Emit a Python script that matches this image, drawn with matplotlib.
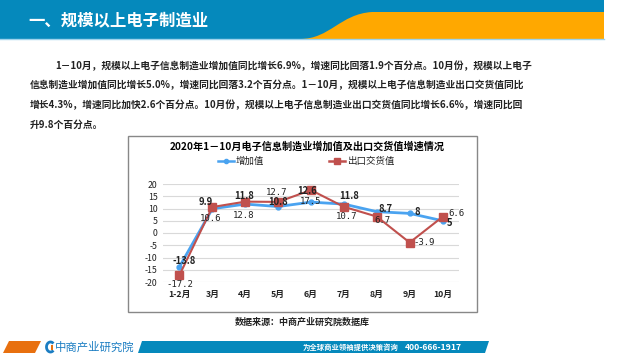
import matplotlib
matplotlib.use("Agg")
import matplotlib.pyplot as plt
from matplotlib.patches import Rectangle, Polygon, PathPatch, Arc
from matplotlib.path import Path

plt.rcParams['font.family'] = ['Noto Sans CJK SC', 'DejaVu Sans']

categories = ["1-2月", "3月", "4月", "5月", "6月", "7月", "8月", "9月", "10月"]
value_added = [-13.8, 9.9, 11.8, 10.8, 12.6, 11.8, 8.7, 8.0, 5.0]
export_value = [-17.2, 10.6, 12.8, 12.7, 17.5, 10.7, 6.7, -3.9, 6.6]
value_labels = ["-13.8", "9.9", "11.8", "10.8", "12.6", "11.8", "8.7", "8", "5"]
export_labels = ["-17.2", "10.6", "12.8", "12.7", "17.5", "10.7", "6.7", "-3.9", "6.6"]
yticks = [20, 15, 10, 5, 0, -5, -10, -15, -20]

W, H = 640, 360
fig = plt.figure(figsize=(6.4, 3.6), dpi=100)
fig.patch.set_facecolor("white")

# background / slide axes in pixel coordinates
bg = fig.add_axes([0, 0, 1, 1], zorder=0)
bg.set_xlim(0, W)
bg.set_ylim(H, 0)
bg.axis("off")

BLUE = "#0589BC"
ORANGE = "#FFA800"
# header
bg.add_patch(Rectangle((0, 0), 604, 39, facecolor=BLUE, edgecolor="none"))
verts = [(300, 39), (330, 39), (340, 14), (372, 12), (604, 12), (604, 39), (300, 39)]
codes = [Path.MOVETO, Path.CURVE4, Path.CURVE4, Path.CURVE4, Path.LINETO, Path.LINETO, Path.CLOSEPOLY]
bg.add_patch(PathPatch(Path(verts, codes), facecolor=ORANGE, edgecolor="none"))
bg.plot([0, 604], [38.5, 38.5], color="#9FD3EC", lw=1)
bg.text(28, 20, "一、规模以上电子制造业", color="white", fontsize=11.8, fontweight="bold",
        va="center", ha="left")

# paragraph
lines = [
    "1－10月，规模以上电子信息制造业增加值同比增长6.9%，增速同比回落1.9个百分点。10月份，规模以上电子",
    "信息制造业增加值同比增长5.0%，增速同比回落3.2个百分点。1－10月，规模以上电子信息制造业出口交货值同比",
    "增长4.3%，增速同比加快2.6个百分点。10月份，规模以上电子信息制造业出口交货值同比增长6.6%，增速同比回",
    "升9.8个百分点。",
]
ys = [66, 85.5, 105, 124.5]
xs = [55, 30, 30, 30]
for t, x, y in zip(lines, xs, ys):
    bg.text(x, y, t, fontsize=7.0, fontweight="bold", color="#222222", va="center", ha="left")

# chart frame
bg.add_patch(Rectangle((128, 136), 349, 176, facecolor="white", edgecolor="#888888", lw=1))
bg.text(307, 147, "2020年1－10月电子信息制造业增加值及出口交货值增速情况", fontsize=7.3,
        fontweight="bold", color="black", ha="center", va="center")
# legend
LBLUE = "#4AA3F0"
RED = "#C0504D"
bg.plot([218, 234], [161, 161], color=LBLUE, lw=1.8)
bg.plot([226], [161], marker="o", ms=3, color=LBLUE)
bg.text(236, 161, "增加值", fontsize=6.8, ha="left", va="center", color="#222222")
bg.plot([329, 345], [161, 161], color=RED, lw=1.8)
bg.plot([337], [161], marker="s", ms=4.5, color=RED)
bg.text(347, 161, "出口交货值", fontsize=6.8, ha="left", va="center", color="#222222")

# source
bg.text(302, 322, "数据来源：中商产业研究院数据库", fontsize=6.5, fontweight="bold",
        ha="center", va="center", color="#222222")

# footer
bg.add_patch(Polygon([(3, 353), (9, 341), (41, 341), (35, 353)], facecolor="#E8700F", edgecolor="none"))
bg.add_patch(Polygon([(138, 353), (142, 341), (489, 341), (485, 353)], facecolor=BLUE, edgecolor="none"))
bg.add_patch(Arc((50.5, 347), 8, 10, theta1=50, theta2=310, color="#1B7DC2", lw=2))
bg.add_patch(Rectangle((50.5, 344.5), 2.5, 5, facecolor="#E8700F", edgecolor="none"))
bg.text(55, 347.5, "中商产业研究院", fontsize=8.2, color="#1B7DC2", ha="left", va="center")
bg.text(303, 347.5, "为全球商业领袖提供决策咨询", fontsize=5.3, fontweight="bold",
        color="white", ha="left", va="center")
bg.text(405, 347.5, "400-666-1917", fontsize=6.2, fontweight="bold",
        color="white", ha="left", va="center")

# chart axes
left, right, top, bottom = 163, 459, 184, 282
ax = fig.add_axes([left / W, (H - bottom) / H, (right - left) / W, (bottom - top) / H], zorder=2)
ax.patch.set_alpha(0)
x = list(range(len(categories)))
ax.set_xlim(-0.5, len(categories) - 0.5)
ax.set_ylim(-20, 20)
ax.set_yticks(yticks)
ax.set_yticklabels([str(v) for v in yticks], fontsize=6.3, color="#222222")
ax.set_xticks(x)
ax.set_xticklabels(categories, fontsize=6.3, fontweight="bold", color="#222222")
ax.tick_params(length=0, pad=4)
ax.tick_params(axis="x", pad=6)
ax.grid(axis="y", color="#D9D9D9", lw=0.8)
for s in ax.spines.values():
    s.set_visible(False)

ax.plot(x, value_added, color=LBLUE, lw=2, marker="o", ms=3.5, zorder=3)
ax.plot(x, export_value, color=RED, lw=1.5, marker="s", ms=6, zorder=4)

blue_off = [(5, 6), (-7, 7), (-1, 8), (0, 5), (-4, 11), (5, 8), (9, 3), (8, 1), (7, -2)]
red_off = [(0, -9), (-2, -11), (-2, -14), (-2, 9), (0, -11), (3, -10), (6, -4), (15, 0), (14, 3)]
for i in x:
    ax.annotate(value_labels[i], (x[i], value_added[i]), xytext=blue_off[i], textcoords="offset pixels",
                ha="center", va="center", fontsize=6.8, fontweight="bold", color="#222222", zorder=5)
    ax.annotate(export_labels[i], (x[i], export_value[i]), xytext=red_off[i], textcoords="offset pixels",
                ha="center", va="center", fontsize=6.5, family="DejaVu Sans Mono", color="#222222", zorder=5)

fig.savefig("out.png", dpi=100)
